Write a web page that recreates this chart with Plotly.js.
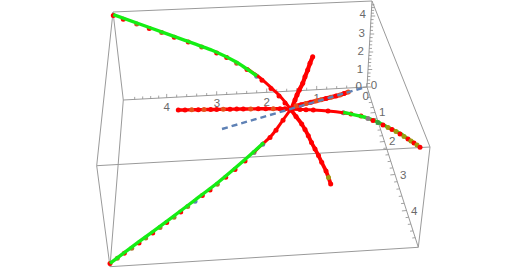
<!DOCTYPE html>
<html>
<head>
<meta charset="utf-8">
<script src="https://cdn.plot.ly/plotly-3.0.1.min.js"></script>
<style>html,body{margin:0;padding:0;background:#fff}#chart{width:527px;height:268px}</style>
</head>
<body>
<div id="chart"></div>
<script>
const boxEdgesX = [113,372,null,372,430,null,430,418.3,null,418.3,110,null,110,96.7,null,96.7,113,null,96.7,430,null,113,123.3,null,123.3,110,null,123.3,367,null,367,372,null,367,418.3];
const boxEdgesY = [12,1,null,1,147,null,147,247.3,null,247.3,266.7,null,266.7,165.7,null,165.7,12,null,165.7,147,null,12,100,null,100,266.7,null,100,87,null,87,1,null,87,247.3];

const xTickMajorX = [366.7,316.7,266.7,216.7,166.7,126.7];
const xTickMajorY = [87,89.7,92.3,95,97.7,99.8];
const yTickMajorX = [367,375,384.3,394.8,406.4,417.5];
const yTickMajorY = [87,112.5,141.5,174.5,210.5,244.5];
const zTickMajorX = [367,368,369,370,371,371.8];
const zTickMajorY = [87,69.5,52,34,16,2];

const tickLabels = ['0','1','2','3','4'];
const xLabelX = [358.7,316.7,266.7,217,166.7];
const xLabelY = [87,98.7,102.7,104,108];
const yLabelX = [365.7,382.3,392.3,403.3,414.3];
const yLabelY = [96.7,112.7,142.3,175.7,211.7];
const zLabelX = [374,360,360.7,361.7,362.7];
const zLabelY = [86,70,51.7,34,15];

const curve1X = [113.3,123.3,136.7,149.3,161.7,174.3,188.3,201.7,216.7,226.7,236.7,247,256.7,262,271,279,285,290.7];
const curve1Y = [14.7,18.3,23,27.6,31.7,36.3,41.2,46,52,56.5,62.3,68.5,75.3,79.3,87.5,95,102,109.3];
const curve2X = [110,117.3,124.3,131.7,139,145.7,152.7,160,166.7,174,180.7,187.7,195,202.3,210,217.3,225.7,235,245,254,262.7,270,276,283,290.7];
const curve2Y = [263.3,258,253,248,242.7,237.7,232.7,227.3,222.3,217,211.7,206.3,201,195.3,189.7,184,177,169.3,160.7,152.3,144,137.3,130,120,109.3];
const curve3X = [290.7,300,306,313.3,328,343.3,351,361,368,373,378,383,388,392,396,400,404,408,411,414,417,420];
const curve3Y = [109.3,109.5,109.7,110,111,112.7,114,116,118.5,120.5,122.5,125,127.5,129.5,131.5,134,136.5,139,141,143,145,147.3];
const curve4X = [291.7,295,297,299.3,302.7,305,307.7,310,312.7];
const curve4Y = [108.3,100,95,90,83.3,76.7,70,63.3,56.7];
const curve5X = [290.7,296,301.7,305,308.3,311.5,315,318.5,321.7,326,328.5,330.7];
const curve5Y = [109.3,116.5,124,129.5,135.7,142.5,149,155.5,162.3,171,177.5,184];
const curve6X = [178.3,185,191.7,198.3,204,210.7,216.7,223.3,230,236.7,243.3,250.7,258.3,265.7,273.3,280,285,290.7];
const curve6Y = [110,110,109.8,109.7,109.6,109.5,109.4,109.3,109.2,109.1,109,108.9,108.8,108.7,108.7,108.7,108.8,109.3];
const curve7X = [290.7,296,301,306,311,316,321,326,331,336,340,344,348.3];
const curve7Y = [109.3,106,104.8,103.5,102.2,101,99.8,98.5,97.3,96,95,93.5,92];
const greenUpperX = [113.3,148,185,213.3,236.7,257];
const greenUpperY = [14.7,27,40.3,50.7,62.3,76];
const greenLowerX = [110,139,166.7,195,217.3,245,264];
const greenLowerY = [263.3,241.7,221.3,200,183,159.5,142.5];
const greenRightX = [343.3,360,368.3,378.3,390,400,408,414];
const greenRightY = [112.3,116,118.3,122.3,128.3,133.3,139,143];
const guideX = [222,366];
const guideY = [129,87];

const RED = '#ff0000', ORANGE = '#e8501a', BLUE = '#5e81b5', OLIVE = '#a09a10', GRAY = '#8a7a80';
const palette1 = [RED,RED,'#c8552a',RED,'#c8552a',RED,RED,'#c8552a',RED,RED,'#c8552a',RED,BLUE,RED,RED,RED,RED,RED];
const palette2 = [RED,'#a08030',RED,'#b07030',RED,'#a08030',RED,'#b07030',RED,'#a08030',RED,'#a08030',BLUE,RED,RED,'#a08030',RED,RED,RED,GRAY,BLUE,RED,RED,RED,RED];
const palette3 = [RED,RED,RED,RED,RED,GRAY,RED,RED,GRAY,RED,'#3aa040',RED,OLIVE,RED,OLIVE,RED,OLIVE,RED,OLIVE,RED,OLIVE,RED];
const palette4 = [RED,RED,RED,RED,RED,RED,RED,RED,RED];
const palette5 = [RED,RED,RED,RED,RED,RED,RED,RED,RED,RED,OLIVE,RED];
const palette6 = [RED,RED,ORANGE,RED,ORANGE,RED,RED,ORANGE,RED,RED,RED,ORANGE,RED,RED,ORANGE,RED,RED,RED];
const palette7 = [RED,ORANGE,RED,ORANGE,RED,ORANGE,ORANGE,RED,ORANGE,RED,ORANGE,RED,ORANGE];

// Axis ticks: five intervals between the major positions.
function tickSegments(mx, my, dx, dy) {
  const xs = [], ys = [];
  for (let i = 0; i < mx.length - 1; i++) {
    for (let j = 0; j < 5; j++) {
      const t = j / 5, px = mx[i] + (mx[i+1]-mx[i])*t, py = my[i] + (my[i+1]-my[i])*t;
      const k = j === 0 ? 1.5 : 1;
      xs.push(px, px + dx*k, null);
      ys.push(py, py + dy*k, null);
    }
  }
  return {xs, ys};
}
const xT = tickSegments(xTickMajorX, xTickMajorY, 0, -2.5);
const yT = tickSegments(yTickMajorX, yTickMajorY, -3, 0.3);
const zT = tickSegments(zTickMajorX, zTickMajorY, 2.8, 0);

const TICK = '#8c8c8c', EDGE = '#9a9a9a', LABEL = '#6a6a6a';
const seg = (x, y, color, width) => ({x, y, type:'scatter', mode:'lines', line:{color, width}, hoverinfo:'skip', connectgaps:false});
const lab = (x, y) => ({x, y, text:tickLabels, type:'scatter', mode:'text', textposition:'middle center',
  textfont:{family:'"Liberation Sans",Arial,sans-serif', size:11.5, color:LABEL}, hoverinfo:'skip'});
const redLine = (x, y, w) => ({x, y, type:'scatter', mode:'lines', line:{color:RED, width:w, shape:'spline', smoothing:0.6}, hoverinfo:'skip'});
const dots = (x, y, colors, dy) => ({x, y:y.map(v => v + (dy||0)), type:'scatter', mode:'markers',
  marker:{size:5, color:colors, line:{width:0}}, hoverinfo:'skip'});
const green = (x, y) => ({x, y, type:'scatter', mode:'lines', line:{color:'#14ee14', width:3.4, shape:'spline', smoothing:0.6}, hoverinfo:'skip'});

const data = [
  seg(boxEdgesX, boxEdgesY, EDGE, 1),
  seg(xT.xs, xT.ys, TICK, 0.8), seg(yT.xs, yT.ys, TICK, 0.8), seg(zT.xs, zT.ys, TICK, 0.8),
  lab(xLabelX, xLabelY), lab(yLabelX, yLabelY), lab(zLabelX, zLabelY),
  dots(curve1X, curve1Y, palette1, 0.9), dots(curve2X, curve2Y, palette2, 0.3), dots(curve3X.slice(0,8), curve3Y.slice(0,8), palette3.slice(0,8), 0),
  redLine(curve1X.slice(11), curve1Y.slice(11), 3),
  redLine(curve2X.slice(19), curve2Y.slice(19), 3),
  redLine(curve3X.slice(0,7), curve3Y.slice(0,7), 3),
  redLine(curve4X, curve4Y, 4.2), redLine(curve5X, curve5Y, 3.8), redLine(curve6X, curve6Y, 3.4), redLine(curve7X, curve7Y, 4.2),
  dots(curve4X, curve4Y, palette4), dots(curve5X, curve5Y, palette5), dots(curve6X, curve6Y, palette6), dots(curve7X, curve7Y, palette7),
  green(greenUpperX, greenUpperY), green(greenLowerX, greenLowerY), green(greenRightX, greenRightY),
  dots(curve3X.slice(8), curve3Y.slice(8), palette3.slice(8), 0),
  {x:guideX, y:guideY, type:'scatter', mode:'lines', line:{color:BLUE, width:2.4, dash:'6px,4px'}, hoverinfo:'skip'}
];

const layout = {
  width:527, height:268, margin:{l:0,r:0,t:0,b:0}, showlegend:false,
  paper_bgcolor:'#ffffff', plot_bgcolor:'#ffffff',
  xaxis:{range:[0,527], visible:false, fixedrange:true},
  yaxis:{range:[268,0], visible:false, fixedrange:true}
};
Plotly.newPlot('chart', data, layout, {displayModeBar:false, staticPlot:true});
</script>
</body>
</html>
